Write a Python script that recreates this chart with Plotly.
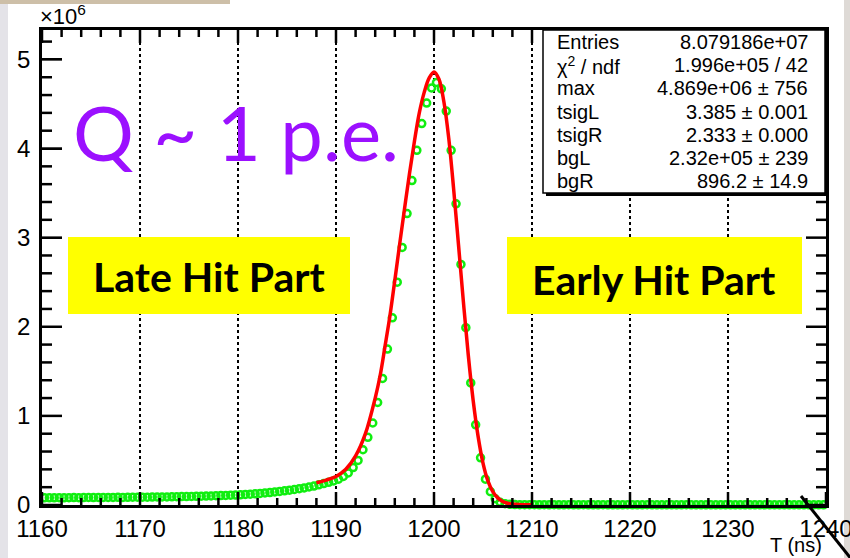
import plotly.graph_objects as go

W, H = 850, 558

# ---------------- data (values in units of 10^6 entries) ----------------
bin_centers = [1160.25 + 0.5 * i for i in range(160)]

hist_vals = [
    # 1160 - 1170
    0.080, 0.081, 0.080, 0.082, 0.081, 0.082, 0.083, 0.082, 0.083, 0.084,
    0.083, 0.084, 0.085, 0.084, 0.085, 0.086, 0.085, 0.086, 0.087, 0.087,
    # 1170 - 1180
    0.088, 0.088, 0.089, 0.090, 0.090, 0.091, 0.092, 0.093, 0.094, 0.095,
    0.096, 0.097, 0.099, 0.100, 0.102, 0.104, 0.106, 0.108, 0.110, 0.112,
    # 1180 - 1190
    0.114, 0.118, 0.122, 0.126, 0.130, 0.135, 0.140, 0.146, 0.152, 0.159,
    0.166, 0.174, 0.183, 0.192, 0.202, 0.213, 0.226, 0.240, 0.254, 0.270,
    # 1190 - 1200
    0.290, 0.320, 0.360, 0.420, 0.500, 0.620, 0.760, 0.920, 1.150, 1.420,
    1.750, 2.100, 2.500, 2.890, 3.270, 3.640, 3.980, 4.280, 4.510, 4.680,
    # 1200 - 1210
    4.740, 4.670, 4.420, 3.980, 3.380, 2.700, 1.990, 1.370, 0.900, 0.530,
    0.290, 0.150, 0.070, 0.030, 0.015, 0.008, 0.005, 0.004, 0.003, 0.003,
    # 1210 - 1220
    0.003, 0.002, 0.003, 0.002, 0.003, 0.002, 0.002, 0.003, 0.002, 0.002,
    0.003, 0.002, 0.002, 0.002, 0.003, 0.002, 0.002, 0.002, 0.002, 0.003,
    # 1220 - 1230
    0.002, 0.002, 0.002, 0.003, 0.002, 0.002, 0.002, 0.002, 0.002, 0.002,
    0.002, 0.003, 0.002, 0.002, 0.002, 0.002, 0.002, 0.002, 0.002, 0.002,
    # 1230 - 1240
    0.002, 0.002, 0.002, 0.002, 0.002, 0.002, 0.002, 0.002, 0.002, 0.002,
    0.002, 0.002, 0.002, 0.002, 0.002, 0.002, 0.002, 0.002, 0.002, 0.002,
]

fit_t = [1188.0, 1189.0, 1190.0, 1191.0, 1192.0, 1193.0, 1194.0, 1194.5, 1195.0,
         1195.5, 1196.0, 1196.5, 1197.0, 1197.5, 1198.0, 1198.5, 1199.0, 1199.5,
         1200.0, 1200.5, 1201.0, 1201.5, 1202.0, 1202.5, 1203.0, 1203.5, 1204.0,
         1204.5, 1205.0, 1205.5, 1206.0, 1206.5, 1207.0, 1207.5, 1208.0, 1209.0, 1210.0]
fit_vals = [0.250, 0.280, 0.320, 0.400, 0.550, 0.800, 1.200, 1.450, 1.780,
            2.120, 2.520, 2.930, 3.330, 3.720, 4.080, 4.400, 4.630, 4.790,
            4.860, 4.780, 4.530, 4.120, 3.550, 2.920, 2.280, 1.680, 1.170,
            0.770, 0.470, 0.270, 0.150, 0.080, 0.040, 0.020, 0.010, 0.004, 0.003]

x_major_ticks = [1160, 1170, 1180, 1190, 1200, 1210, 1220, 1230, 1240]
x_minor_step = 2
y_major_ticks = [0, 1, 2, 3, 4, 5]
y_minor_step = 0.2

stats_names = ["Entries", "χ<sup>2</sup> / ndf", "max", "tsigL", "tsigR", "bgL", "bgR"]
stats_values = ["8.079186e+07", "1.996e+05 / 42", "4.869e+06 ± 756", "3.385 ± 0.001",
                "2.333 ± 0.000", "2.32e+05 ± 239", "896.2 ± 14.9"]

# ---------------- layout helpers (pixel -> plot-area paper coords) ----------------
L, R, T, B = 42, 826, 30, 505
X_RANGE = [1160, 1240]
Y_RANGE = [0, 5.33]

def px(x):
    return (x - L) / (R - L)

def py(y):
    return (B - y) / (B - T)

fig = go.Figure()

fig.add_trace(go.Scatter(
    x=bin_centers, y=hist_vals, mode="markers",
    marker=dict(symbol="circle-open", size=7, color="#10ee10", line=dict(width=2.5, color="#10ee10")),
    cliponaxis=False, showlegend=False, hoverinfo="skip"))

fig.add_trace(go.Scatter(
    x=fit_t, y=fit_vals, mode="lines", line=dict(color="#ff0000", width=3.5, shape="spline"),
    showlegend=False, hoverinfo="skip"))

axis_font = dict(family="Liberation Sans, Arial, sans-serif", size=24, color="black")

fig.update_layout(
    xaxis=dict(
        range=X_RANGE, tickmode="array", tickvals=x_major_ticks, ticktext=[str(v) for v in x_major_ticks],
        ticks="inside", ticklen=12, tickwidth=2, tickcolor="black",
        showline=True, linewidth=2.5, linecolor="black", mirror=True,
        showgrid=True, gridcolor="black", griddash="dot", gridwidth=1.5,
        zeroline=False, tickfont=axis_font, ticklabeloverflow="allow", automargin=False,
    ),
    yaxis=dict(
        range=Y_RANGE, tickmode="array", tickvals=y_major_ticks, ticktext=[str(v) for v in y_major_ticks],
        ticks="inside", ticklen=20, tickwidth=2, tickcolor="black",
        showline=True, linewidth=2.5, linecolor="black", mirror=True,
        showgrid=False, zeroline=False, tickfont=axis_font, ticklabelstandoff=4, automargin=False,
    ),
)

shapes = []
# blurred slide background at the edges
shapes.append(dict(type="rect", xref="paper", yref="paper", x0=px(0), x1=px(8), y0=py(558), y1=py(0),
                   fillcolor="#e4e3e8", line=dict(width=0), layer="below"))
shapes.append(dict(type="rect", xref="paper", yref="paper", x0=px(0), x1=px(230), y0=py(4), y1=py(0),
                   fillcolor="#cdbfa8", line=dict(width=0), layer="below"))
shapes.append(dict(type="rect", xref="paper", yref="paper", x0=px(844), x1=px(850), y0=py(558), y1=py(0),
                   fillcolor="#dedad6", line=dict(width=0), layer="below"))

# axis tick marks (ROOT style: inside, on all four sides), placed through the axes' data scales
def x_tick(v, length_px, width):
    h = length_px / (B - T)
    return [dict(type="line", xref="x", yref="paper", x0=v, x1=v, y0=0, y1=h,
                 line=dict(color="black", width=width), layer="above"),
            dict(type="line", xref="x", yref="paper", x0=v, x1=v, y0=1, y1=1 - h,
                 line=dict(color="black", width=width), layer="above")]

def y_tick(v, length_px, width):
    w = length_px / (R - L)
    return [dict(type="line", xref="paper", yref="y", x0=0, x1=w, y0=v, y1=v,
                 line=dict(color="black", width=width), layer="above"),
            dict(type="line", xref="paper", yref="y", x0=1, x1=1 - w, y0=v, y1=v,
                 line=dict(color="black", width=width), layer="above")]

for v in x_major_ticks:
    shapes += x_tick(v, 13, 2.5)
n_xminor = int(round((X_RANGE[1] - X_RANGE[0]) / x_minor_step))
for i in range(n_xminor + 1):
    v = X_RANGE[0] + i * x_minor_step
    if v not in x_major_ticks:
        shapes += x_tick(v, 7, 2.5)
for v in y_major_ticks:
    shapes += y_tick(v, 20, 2.5)
n_yminor = int((Y_RANGE[1] - Y_RANGE[0]) / y_minor_step)
for i in range(n_yminor + 1):
    v = round(Y_RANGE[0] + i * y_minor_step, 6)
    if abs(v - round(v)) > 1e-6:
        shapes += y_tick(v, 10, 2.5)

# yellow label boxes
shapes.append(dict(type="rect", xref="paper", yref="paper", x0=px(68), x1=px(350), y0=py(314), y1=py(237),
                   fillcolor="#ffff00", line=dict(width=0), layer="above"))
shapes.append(dict(type="rect", xref="paper", yref="paper", x0=px(507), x1=px(802), y0=py(314), y1=py(237),
                   fillcolor="#ffff00", line=dict(width=0), layer="above"))
# stats box shadow + box
shapes.append(dict(type="rect", xref="paper", yref="paper", x0=px(546), x1=px(828), y0=py(196), y1=py(33),
                   fillcolor="black", line=dict(width=0), layer="above"))
shapes.append(dict(type="rect", xref="paper", yref="paper", x0=px(543), x1=px(825), y0=py(193), y1=py(30),
                   fillcolor="white", line=dict(width=1.5, color="black"), layer="above"))
# diagonal slide stroke bottom-right
shapes.append(dict(type="line", xref="paper", yref="paper", x0=px(801), y0=py(496), x1=px(852), y1=py(560),
                   line=dict(width=3, color="black"), layer="above"))

annotations = []
sfont = dict(family="Liberation Sans, Arial, sans-serif", size=20, color="black")
row_y = [42, 65, 88, 112, 135, 158, 181]
for name, val, yy in zip(stats_names, stats_values, row_y):
    annotations.append(dict(xref="paper", yref="paper", x=px(555), y=py(yy), text=name, showarrow=False,
                            xanchor="left", yanchor="middle", font=sfont))
    annotations.append(dict(xref="paper", yref="paper", x=px(810), y=py(yy), text=val, showarrow=False,
                            xanchor="right", yanchor="middle", font=sfont))

annotations.append(dict(xref="paper", yref="paper", x=px(38), y=py(15), text="×10<sup>6</sup>", showarrow=False,
                        xanchor="left", yanchor="middle", font=dict(family="Liberation Sans, Arial", size=22, color="black")))
annotations.append(dict(xref="paper", yref="paper", x=px(824), y=py(545), text="T (ns)", showarrow=False,
                        xanchor="right", yanchor="middle", font=dict(family="Liberation Sans, Arial", size=20, color="black")))
annotations.append(dict(xref="paper", yref="paper", x=px(236), y=py(131), text="Q ~ 1 p.e.", showarrow=False,
                        xanchor="center", yanchor="middle", font=dict(family="Lato, Open Sans, sans-serif", size=76, color="#9b10ff")))
annotations.append(dict(xref="paper", yref="paper", x=px(209), y=py(276), text="<b>Late Hit Part</b>", showarrow=False,
                        xanchor="center", yanchor="middle", font=dict(family="Lato, Open Sans, sans-serif", size=41, color="black")))
annotations.append(dict(xref="paper", yref="paper", x=px(654), y=py(279), text="<b>Early Hit Part</b>", showarrow=False,
                        xanchor="center", yanchor="middle", font=dict(family="Lato, Open Sans, sans-serif", size=41, color="black")))

fig.update_layout(
    width=W, height=H, margin=dict(l=L, r=W - R, t=T, b=H - B, autoexpand=False),
    paper_bgcolor="white", plot_bgcolor="white",
    shapes=shapes, annotations=annotations, showlegend=False,
)

fig.write_html("out.html")
